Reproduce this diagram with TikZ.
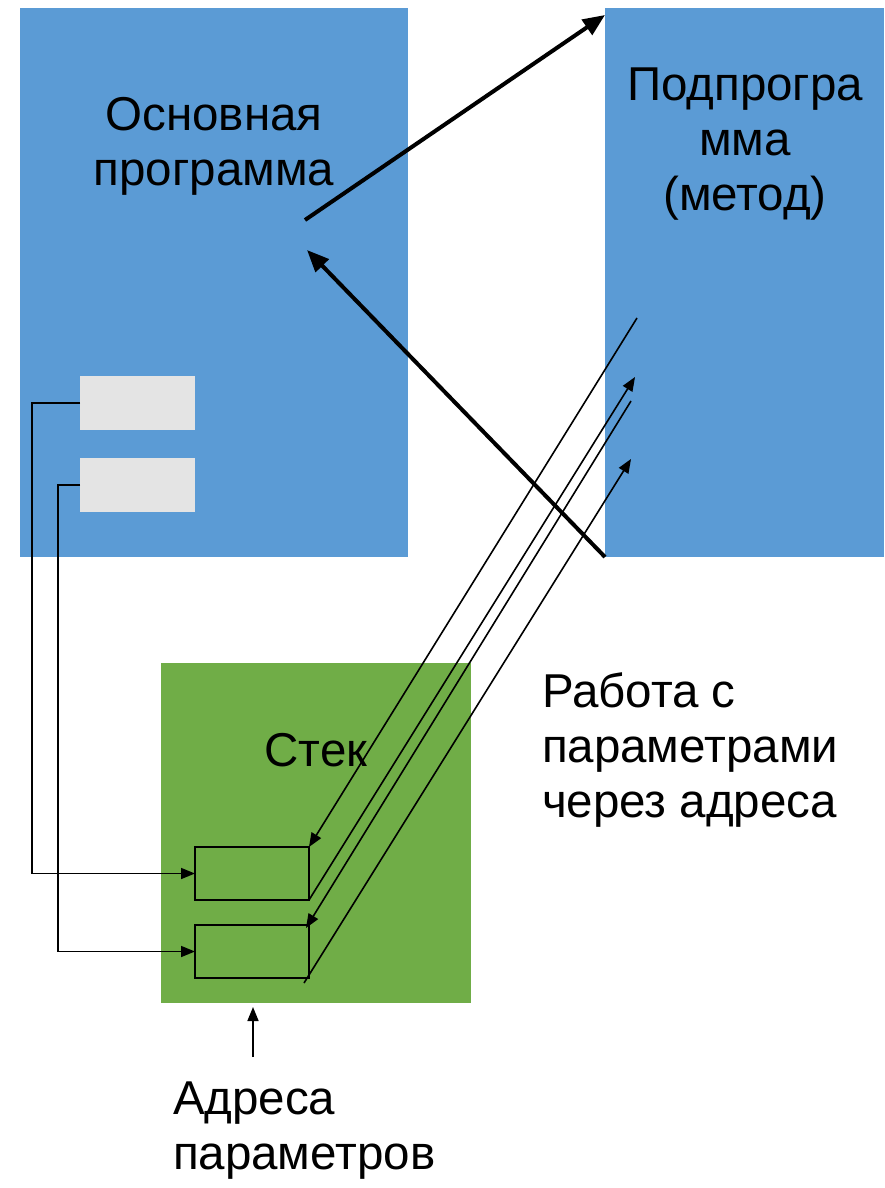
\documentclass[tikz,border=0pt]{standalone}
\usepackage{fontspec}
\setmainfont{Liberation Sans}
\usetikzlibrary{arrows.meta}
\definecolor{pblue}{HTML}{5B9BD5}
\definecolor{pgreen}{HTML}{70AD47}
\definecolor{pgray}{HTML}{E4E4E4}
\tikzset{
  blk/.style={anchor=north west, inner sep=0pt, outer sep=0pt, draw=none},
  cell/.style={anchor=north west, inner sep=0pt, outer sep=0pt, draw=black, line width=2pt, minimum width=114pt, minimum height=53pt},
  lbl/.style={font=\fontsize{47.5}{55}\selectfont, inner sep=0pt, outer sep=0pt},
  thickarr/.style={line width=4pt, -{Triangle[length=22pt,width=18pt]}},
  thinarr/.style={line width=1.6pt, -{Triangle[length=14pt,width=11pt]}},
}
\begin{document}
\begin{tikzpicture}[x=1pt,y=-1pt]
\useasboundingbox (0,0) rectangle (884,1188);
% blocks
\node[blk, fill=pblue, minimum width=388pt, minimum height=549pt] (main) at (20,8) {};
\node[blk, fill=pblue, minimum width=279pt, minimum height=549pt] (sub) at (605,8) {};
\node[blk, fill=pgray, minimum width=115pt, minimum height=54pt] (g1) at (80,376) {};
\node[blk, fill=pgray, minimum width=115pt, minimum height=54pt] (g2) at (80,458) {};
\node[blk, fill=pgreen, minimum width=310pt, minimum height=340pt] (stack) at (161,663) {};
\node[cell] (s1) at (195,847) {};
\node[cell] (s2) at (195,925) {};
% labels
\node[lbl, align=center] (tmain) at (214,146) {Основная\\программа};
\node[lbl, align=center] (tsub) at (745,144) {Подпрогра\\мма\\(метод)};
\node[lbl] (tstack) at (316,750) {Стек};
\node[lbl, align=left, anchor=north west] (twork) at (542,673) {Работа с\\параметрами\\через адреса};
\node[lbl, align=left, anchor=north west] (taddr) at (173,1082) {Адреса\\параметров};
% coordinates
\coordinate (callS) at (305,220);
\coordinate (callE) at (605,15);
\coordinate (retE) at (307,250);
\coordinate (a1) at (637,318);
\coordinate (a2) at (635,377);
\coordinate (a3) at (631,401);
\coordinate (a3e) at (306,928);
\coordinate (a4s) at (304,983);
\coordinate (a4) at (631,459);
\coordinate (addrS) at (253,1057);
\coordinate (addrE) at (253,1007);
% main arrows
\draw[thickarr] (callS) -- (callE);
\draw[thickarr] (sub.south west) -- (retE);
% parameter links
\draw[thinarr] (g1.west) -- ++(-48,0) |- (s1.west);
\draw[thinarr] (g2.west) -- ++(-22,0) |- (s2.west);
% address work lines
\draw[thinarr] (a1) -- (s1.north east);
\draw[thinarr] (s1.south east) -- (a2);
\draw[thinarr] (a3) -- (a3e);
\draw[thinarr] (a4s) -- (a4);
\draw[thinarr] (addrS) -- (addrE);
\end{tikzpicture}
\end{document}
